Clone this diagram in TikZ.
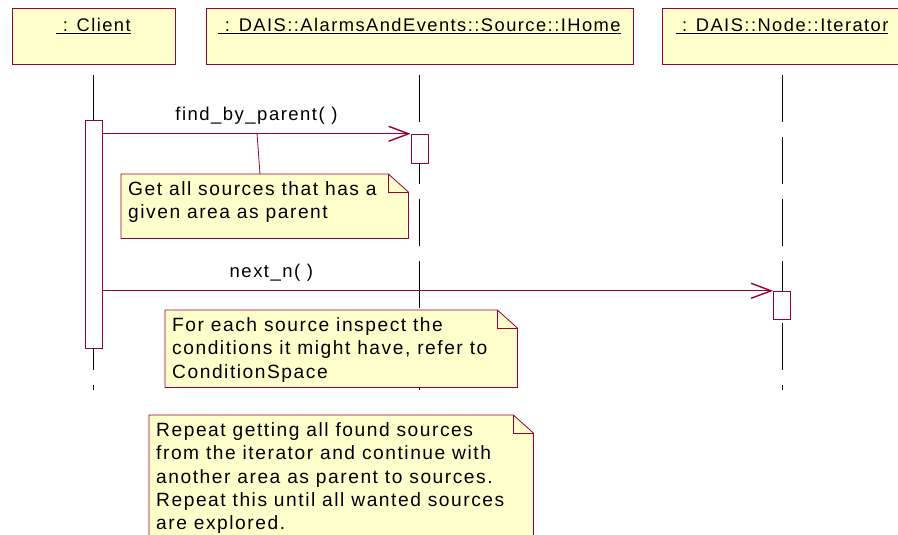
\documentclass[tikz,border=0pt]{standalone}
\usepackage{fontspec}
\setmainfont{Liberation Sans}[LetterSpace=8]
\usepackage{tikz}
\usetikzlibrary{arrows.meta,positioning,calc}
\definecolor{roseline}{RGB}{153,0,51}
\definecolor{noteyellow}{RGB}{255,255,204}
\tikzset{
  umlobject/.style={draw=roseline, fill=noteyellow, anchor=north, inner sep=0pt, text height=23pt, text depth=33pt, line width=0.8pt, font=\fontsize{18.3}{23}\selectfont},
  umlactivation/.style={draw=roseline, fill=white, anchor=north, minimum width=17pt, inner sep=0pt, line width=0.8pt},
  umlmsg/.style={draw=roseline, line width=0.8pt, -{Straight Barb[length=20pt,width=15pt,line width=1.4pt]}},
  umlmsglabel/.style={above=7pt, inner sep=2pt, text depth=4pt, font=\fontsize{18.5}{23}\selectfont},
  umllifeline/.style={line width=0.8pt, dash pattern=on 47pt off 15pt},
  notebody/.style={anchor=north west, inner sep=0pt},
  noteline/.style={draw=roseline, line width=0.8pt},
  notetext/.style={anchor=north west, align=left, inner xsep=7pt, inner ysep=7.5pt, font=\fontsize{19.2}{23.3}\selectfont}
}

\begin{document}
\begin{tikzpicture}[x=1pt, y=-1pt]
\useasboundingbox (0,0) rectangle (898,535);
\clip (0,0) rectangle (898,535);
% objects
\node[umlobject, minimum width=163pt] (client) at (93.5,8) {\underline{\ : Client}};
\node[umlobject, minimum width=427pt] (ihome) at (419.5,8) {\underline{\ : DAIS::AlarmsAndEvents::Source::IHome}};
\node[umlobject, minimum width=240pt] (iterator) at (782,8) {\underline{\ : DAIS::Node::Iterator}};
\foreach \p in {client,ihome,iterator} {
  \draw[umllifeline] ([yshift=-10pt]\p.south) -- ++(0,315);
}
% activations
\node[umlactivation, minimum height=228pt] (clientact) at ([yshift=-55pt]client.south) {};
\node[umlactivation, minimum height=29pt] (ihomeact) at ([yshift=-69pt]ihome.south) {};
\node[umlactivation, minimum height=28pt] (iteratoract) at ([yshift=-226pt]iterator.south) {};
% messages
\draw[umlmsg] (clientact.east |- ihomeact.north west) -- node[umlmsglabel] (findlbl) {find\_by\_parent( )} (ihomeact.north west);
\draw[umlmsg] (clientact.east |- iteratoract.north west) -- node[umlmsglabel, pos=0.252] (nextlbl) {next\_n( )} (iteratoract.north west);
\coordinate (findpt) at (257,133);
% notes
\node[notebody, minimum width=287pt, minimum height=64pt] (note1) at (121,174) {};
\node[notebody, minimum width=352pt, minimum height=77pt] (note2) at (165,310) {};
\node[notebody, minimum width=384pt, minimum height=150pt] (note3) at (149,415) {};
\foreach \n in {note1,note2,note3} {
  \filldraw[noteline, fill=noteyellow] (\n.north west) -- ([xshift=-20pt]\n.north east) -- ([yshift=-18pt]\n.north east) -- (\n.south east) -- (\n.south west) -- cycle;
  \draw[noteline] ([xshift=-20pt]\n.north east) |- ([yshift=-18pt]\n.north east);
}
\draw[noteline] ([xshift=139pt]note1.north west) -- (findpt);
\node[notetext] (note1txt) at (note1.north west) {Get all sources that has a\\given area as parent};
\node[notetext] (note2txt) at (note2.north west) {For each source inspect the\\conditions it might have, refer to\\ConditionSpace};
\node[notetext] (note3txt) at (note3.north west) {Repeat getting all found sources\\from the iterator and continue with\\another area as parent to sources.\\Repeat this until all wanted sources\\are explored.};
\end{tikzpicture}
\end{document}
